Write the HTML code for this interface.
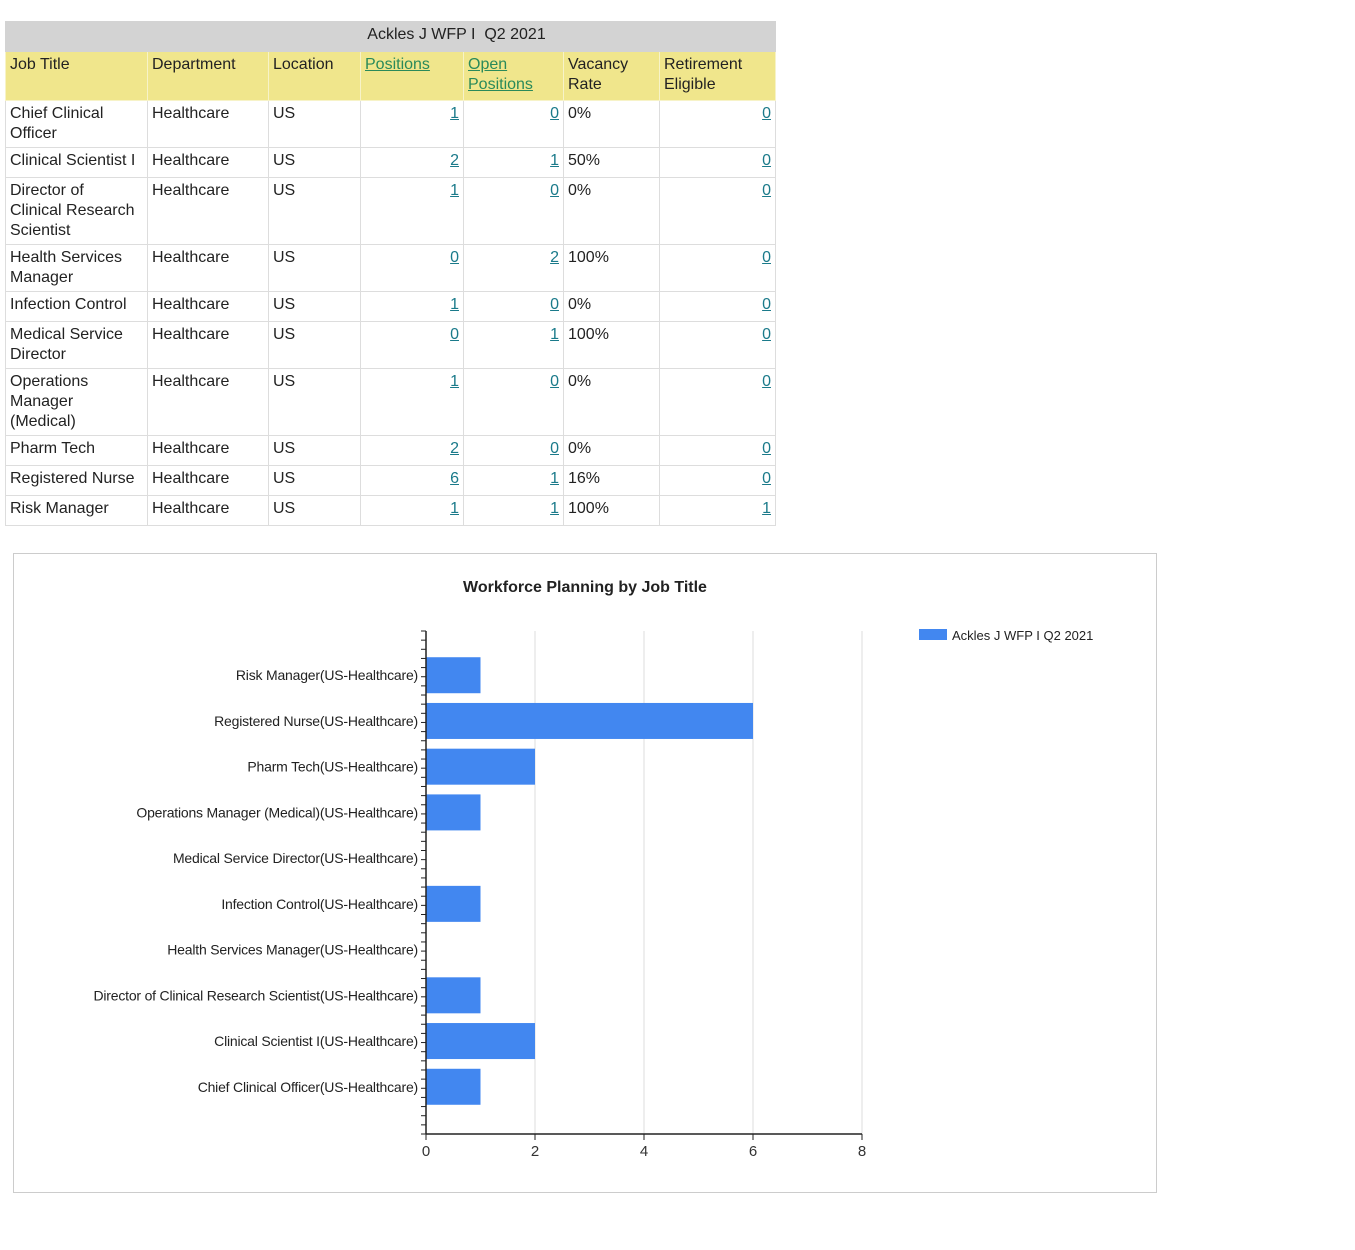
<!DOCTYPE html>
<html><head><meta charset="utf-8"><style>
body{margin:0;background:#fff;width:1355px;height:1250px;position:relative;font-family:"Liberation Sans",Arial,sans-serif;overflow:hidden}
table{position:absolute;left:5px;top:21px;border-collapse:collapse;font-size:16px;color:#222}
td,th{border:1px solid #ddd;padding:3px 4px;vertical-align:top;text-align:left;font-weight:normal;line-height:20px}
th.h{background:#d3d3d3;text-align:center;border-color:#d3d3d3;padding-left:136px}
tr.hd td{background:#f0e68c;border-color:#f7f3c8}
a{color:#1a7a8a;text-decoration:underline}
.hd a{color:#2a8a5a}
.n{text-align:right}
#chart{position:absolute;left:13px;top:553px;width:1142px;height:638px;border:1px solid #ccc}
</style></head><body>
<table>
<colgroup><col style="width:142px"><col style="width:121px"><col style="width:92px"><col style="width:103px"><col style="width:100px"><col style="width:96px"><col style="width:116px"></colgroup>
<tr style="height:30px"><th class="h" colspan="7">Ackles J WFP I&nbsp; Q2 2021</th></tr>
<tr class="hd" style="height:49px"><td>Job Title</td><td>Department</td><td>Location</td><td><a>Positions</a></td><td><a>Open <br>Positions</a></td><td>Vacancy Rate</td><td>Retirement Eligible</td></tr>
<tbody id="tb"></tbody>
</table>
<div id="chart">
<svg width="1142" height="638" font-family="Liberation Sans, Arial, sans-serif" id="svg"></svg>
</div>
<script>
const tJobs=["Chief Clinical<br>Officer","Clinical Scientist I","Director of<br>Clinical Research<br>Scientist","Health Services<br>Manager","Infection Control","Medical Service<br>Director","Operations<br>Manager<br>(Medical)","Pharm Tech","Registered Nurse","Risk Manager"];
const tPos=[1,2,1,0,1,0,1,2,6,1];
const tOpen=[0,1,0,2,0,1,0,0,1,1];
const tVac=["0%","50%","0%","100%","0%","100%","0%","0%","16%","100%"];
const tRet=[0,0,0,0,0,0,0,0,0,1];
const tH=[47,30,67,47,30,47,67,30,30,30];
const tb=document.getElementById('tb');
tJobs.forEach((j,i)=>{
 const tr=document.createElement('tr');tr.style.height=tH[i]+'px';
 
 
 tr.innerHTML=`<td>${j}</td><td>Healthcare</td><td>US</td><td class="n"><a>${tPos[i]}</a></td><td class="n"><a>${tOpen[i]}</a></td><td>${tVac[i]}</td><td class="n"><a>${tRet[i]}</a></td>`;
 tr.querySelectorAll('a').forEach(a=>{});
 tb.appendChild(tr);
});

const categories=["Risk Manager(US-Healthcare)","Registered Nurse(US-Healthcare)","Pharm Tech(US-Healthcare)","Operations Manager (Medical)(US-Healthcare)","Medical Service Director(US-Healthcare)","Infection Control(US-Healthcare)","Health Services Manager(US-Healthcare)","Director of Clinical Research Scientist(US-Healthcare)","Clinical Scientist I(US-Healthcare)","Chief Clinical Officer(US-Healthcare)"];
const values=[1,6,2,1,0,1,0,1,2,1];
const xTicks=[0,2,4,6,8];
const seriesName="Ackles J WFP I Q2 2021";
const NS="http://www.w3.org/2000/svg",svg=document.getElementById('svg');
const ox=412,top0=77,bot=580,xmax=8,xw=436;
const x=v=>ox+v/xmax*xw;
const band=(bot-top0)/11;
const yc=i=>top0+band*(i+1)-1.5;
function el(t,a,txt){const e=document.createElementNS(NS,t);for(const k in a)e.setAttribute(k,a[k]);if(txt!==undefined)e.textContent=txt;svg.appendChild(e);return e;}
let e=el('text',{x:571,y:38,'text-anchor':'middle','font-size':16,'font-weight':'bold',fill:'#222'},"Workforce Planning by Job Title");


xTicks.forEach(t=>{
 if(t>0){const g=el('line',{x1:x(t),x2:x(t),y1:top0,y2:bot,stroke:'#ddd'});}
 const tk=el('line',{x1:x(t),x2:x(t),y1:bot,y2:bot+6,stroke:'#222'});
 const l=el('text',{x:x(t),y:bot+22,'text-anchor':'middle','font-size':15,fill:'#333'},t);
 
 
});
for(let k=0;k<=55;k++){const yy=top0+k*(bot-top0)/55;const m=el('line',{x1:ox-5,x2:ox,y1:yy,y2:yy,stroke:'#222'});}
categories.forEach((c,i)=>{
 const cy=yc(i);
 const b=el('rect',{x:x(0),y:cy-18,width:x(values[i])-x(0),height:36,fill:'#4287f0'});
 
 
 const l=el('text',{x:ox-8,y:cy+5,'text-anchor':'end','font-size':14,fill:'#222','letter-spacing':'-0.2'},c);
 
 
});
e=el('line',{x1:ox,x2:ox,y1:top0,y2:bot,stroke:'#222','stroke-width':1.5});
e=el('line',{x1:ox,x2:x(8),y1:bot,y2:bot,stroke:'#222','stroke-width':1.5});
e=el('rect',{x:905,y:75,width:28,height:11,fill:'#4287f0'});
e=el('text',{x:938,y:86,'font-size':13,fill:'#222'},seriesName);
</script>
</body></html>
